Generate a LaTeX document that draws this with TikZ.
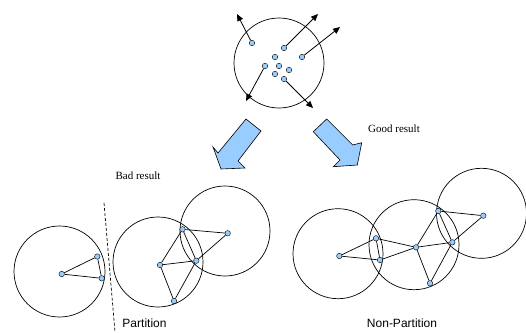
\documentclass[tikz,border=0pt]{standalone}
\usepackage{fontspec}
\setmainfont{Liberation Serif}
\setsansfont{Liberation Sans}
\usetikzlibrary{arrows.meta}
\definecolor{paleblue}{RGB}{153,204,255}
\begin{document}
\begin{tikzpicture}[x=1pt,y=-1pt,
  ring/.style={draw=black,line width=0.7pt},
  dot/.style={circle,draw=black,line width=0.4pt,fill=paleblue,inner sep=0pt,minimum size=5.5pt},
  edge/.style={draw=black,line width=0.7pt},
  spread/.style={draw=black,line width=0.8pt,-{Triangle[length=7pt,width=6pt]}},
  blockarrow/.style={draw=black,line width=0.6pt,fill=paleblue,line join=miter},
  serif/.style={font=\fontsize{11}{13}\selectfont,inner sep=0pt},
  sans/.style={font=\sffamily\fontsize{12}{14}\selectfont,inner sep=0pt}]
\useasboundingbox (0,0) rectangle (526,332);
% top circle
\node[ring,circle,minimum size=90pt,inner sep=0pt] (top) at (279,63) {};
\node[dot] (t1) at (252,43) {};
\node[dot] (t2) at (284,48) {};
\node[dot] (t3) at (275,57) {};
\node[dot] (t4) at (302,57) {};
\node[dot] (t5) at (265,66) {};
\node[dot] (t6) at (279,66) {};
\node[dot] (t7) at (289,70) {};
\node[dot] (t8) at (275,74) {};
\node[dot] (t9) at (284,79) {};
\coordinate (e1) at (237,14);
\coordinate (e2) at (318,14);
\coordinate (e4) at (340,27);
\coordinate (e5) at (246,101);
\coordinate (e9) at (313,108);
\draw[spread] (t1) -- (e1);
\draw[spread] (t2) -- (e2);
\draw[spread] (t4) -- (e4);
\draw[spread] (t5) -- (e5);
\draw[spread] (t9) -- (e9);
% block arrows
\draw[blockarrow] (246,119) -- (261,131) -- (238,161) -- (245,168) -- (221,169) -- (213,147) -- (218,153) -- cycle;
\draw[blockarrow] (326.7,119) -- (352.7,145) -- (361.7,142.7) -- (357.3,165) -- (333.3,166.7) -- (340,160) -- (313.3,131.7) -- cycle;
\node[serif,anchor=west] (good) at (368,129) {Good result};
\node[serif] (bad) at (138,176) {Bad result};
% bad result: left group
\node[ring,circle,minimum size=91pt,inner sep=0pt] (la) at (59.5,271.5) {};
\node[dot] (l1) at (61.7,274) {};
\node[dot] (l2) at (97.3,256.5) {};
\node[dot] (l3) at (101.7,278.3) {};
\draw[edge] (l1) -- (l2);
\draw[edge] (l1) -- (l3);
\draw[edge] (l2) -- (l3);
\coordinate (cut1) at (104,203);
\coordinate (cut2) at (115,332);
\draw[black,line width=0.7pt,dash pattern=on 3pt off 2pt] (cut1) -- (cut2);
% bad result: middle group
\node[ring,circle,minimum size=90pt,inner sep=0pt] (ma) at (158,262) {};
\node[ring,circle,minimum size=90pt,inner sep=0pt] (mb) at (225,231) {};
\node[dot] (m1) at (182.5,229.3) {};
\node[dot] (m2) at (227.7,233.3) {};
\node[dot] (m3) at (160,265) {};
\node[dot] (m4) at (196.3,260.7) {};
\node[dot] (m5) at (174,301) {};
\draw[edge] (m1) -- (m2);
\draw[edge] (m2) -- (m4);
\draw[edge] (m1) -- (m4);
\draw[edge] (m1) -- (m3);
\draw[edge] (m3) -- (m4);
\draw[edge] (m3) -- (m5);
\draw[edge] (m5) -- (m4);
\node[sans] (part) at (144.5,323) {Partition};
% good result: right group
\node[ring,circle,minimum size=90pt,inner sep=0pt] (ra) at (338,253.7) {};
\node[ring,circle,minimum size=90pt,inner sep=0pt] (rb) at (414,244.7) {};
\node[ring,circle,minimum size=90pt,inner sep=0pt] (rc) at (481.5,213.3) {};
\node[dot] (r1) at (339.3,256) {};
\node[dot] (r2) at (376,238.3) {};
\node[dot] (r3) at (380,260) {};
\node[dot] (r4) at (416,247.3) {};
\node[dot] (r5) at (438.3,211) {};
\node[dot] (r6) at (483.3,215.7) {};
\node[dot] (r7) at (452.3,242.3) {};
\node[dot] (r8) at (430,283.3) {};
\draw[edge] (r1) -- (r2);
\draw[edge] (r1) -- (r3);
\draw[edge] (r2) -- (r3);
\draw[edge] (r2) -- (r4);
\draw[edge] (r3) -- (r4);
\draw[edge] (r4) -- (r5);
\draw[edge] (r4) -- (r7);
\draw[edge] (r4) -- (r8);
\draw[edge] (r8) -- (r7);
\draw[edge] (r5) -- (r6);
\draw[edge] (r6) -- (r7);
\draw[edge] (r5) -- (r7);
\node[sans] (npart) at (402,323) {Non-Partition};
\end{tikzpicture}
\end{document}
